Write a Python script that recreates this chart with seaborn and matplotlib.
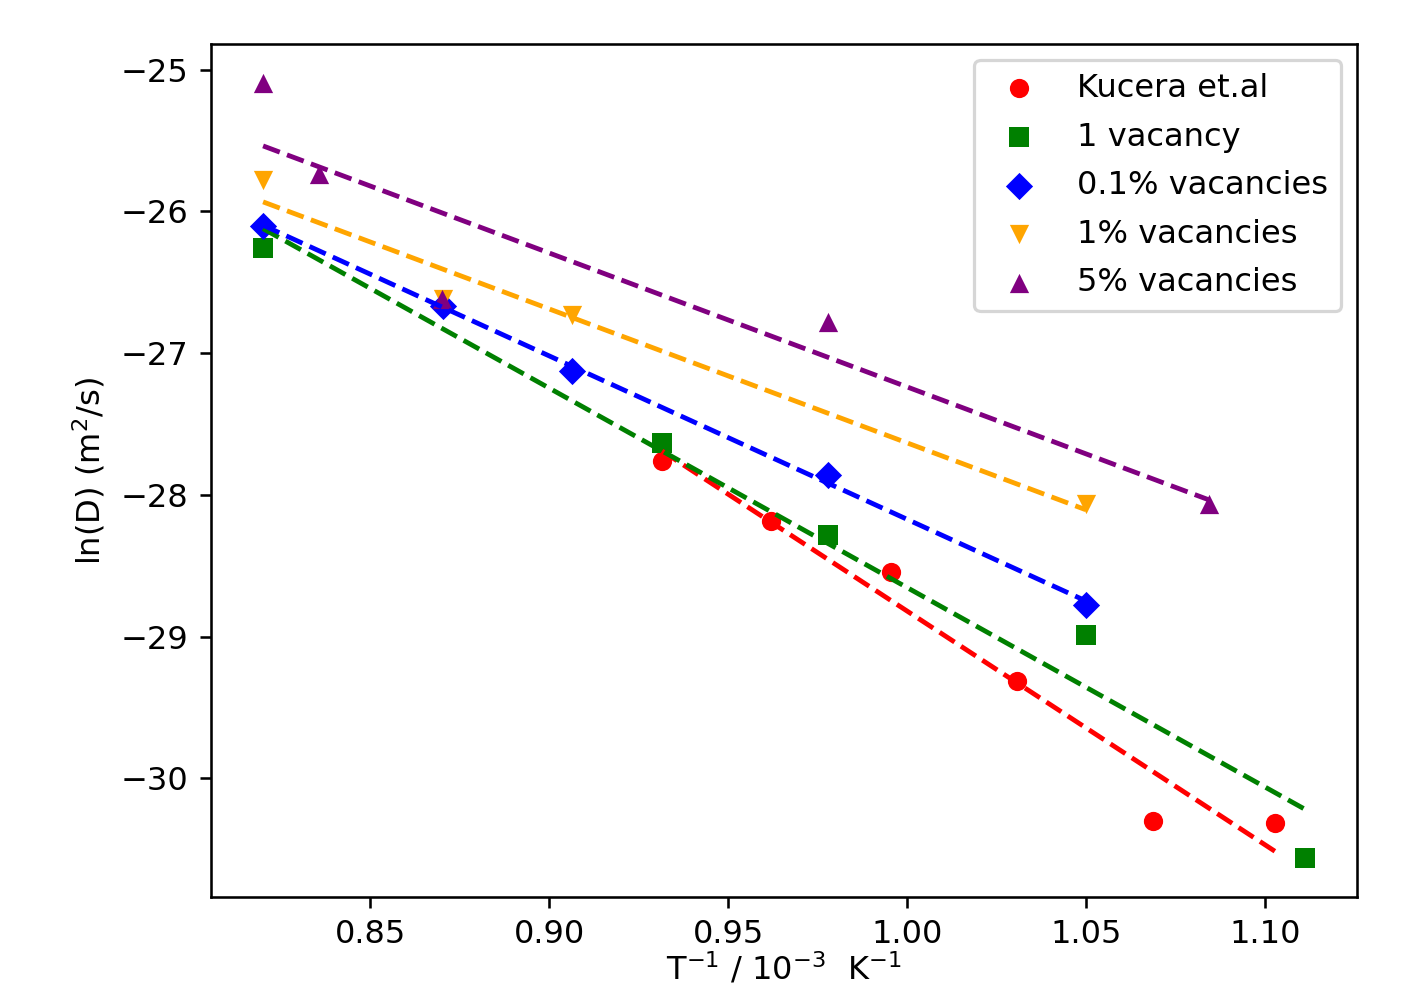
import numpy as np
import seaborn as sns
import matplotlib.pyplot as plt

# inverse temperature (1/T, 10^-3 K^-1) and ln(D) for each data set
kucera_x = [0.9315, 0.9620, 0.9956, 1.0306, 1.0686, 1.1028]
kucera_y = [-27.761, -28.183, -28.542, -29.310, -30.303, -30.317]

vac1_x = [0.8200, 0.9315, 0.9779, 1.0499, 1.1112]
vac1_y = [-26.261, -27.634, -28.282, -28.986, -30.563]

vac01_x = [0.8200, 0.8702, 0.9063, 0.9779, 1.0499]
vac01_y = [-26.099, -26.669, -27.127, -27.859, -28.775]

vac1pc_x = [0.8200, 0.8702, 0.9063, 1.0499]
vac1pc_y = [-25.775, -26.620, -26.732, -28.063]

vac5pc_x = [0.8200, 0.8357, 0.8700, 0.9779, 1.0843]
vac5pc_y = [-25.092, -25.739, -26.620, -26.782, -28.063]

labels = ['Kucera et.al', '1 vacancy', '0.1% vacancies', '1% vacancies', '5% vacancies']
colors = ['red', 'green', 'blue', 'orange', 'purple']
markers = ['o', 's', 'D', 'v', '^']

series = [(kucera_x, kucera_y), (vac1_x, vac1_y), (vac01_x, vac01_y),
          (vac1pc_x, vac1pc_y), (vac5pc_x, vac5pc_y)]

# reference was rendered at ~231 dpi, we save at 200 so scale everything up
k = 231 / 200
plt.rcParams.update({
    'font.size': 10 * k,
    'lines.linewidth': 1.5 * k,
    'lines.markersize': 6 * k,
    'axes.linewidth': 0.8 * k,
    'axes.labelpad': 4 * k,
    'xtick.major.size': 3.5 * k,
    'ytick.major.size': 3.5 * k,
    'xtick.major.width': 0.8 * k,
    'ytick.major.width': 0.8 * k,
    'xtick.major.pad': 3.5 * k,
    'ytick.major.pad': 3.5 * k,
    'patch.linewidth': 1.0 * k,
})

fig = plt.figure(figsize=(7.03, 4.94), dpi=200)
ax = fig.add_axes([211 / 1406, 1 - 897 / 988, 1146 / 1406, 853 / 988])

for (x, y), lab, c, m in zip(series, labels, colors, markers):
    sns.scatterplot(x=x, y=y, ax=ax, color=c, marker=m, label=lab,
                    s=(6 * k) ** 2, linewidth=0, edgecolor=c)

# linear fits drawn over the data range of each set
for (x, y), c in zip(series, colors):
    slope, icpt = np.polyfit(x, y, 1)
    xs = np.array([min(x), max(x)])
    ax.plot(xs, slope * xs + icpt, linestyle='--', color=c)

# label sits a bit higher than in the original so it is not clipped
ax.set_xlabel('T$^{-1}$ / 10$^{-3}$  K$^{-1}$', labelpad=0)
ax.set_ylabel('ln(D) (m$^2$/s)')
ax.legend(loc='upper right', labelspacing=0.55)

fig.savefig('out.png', dpi=200)
